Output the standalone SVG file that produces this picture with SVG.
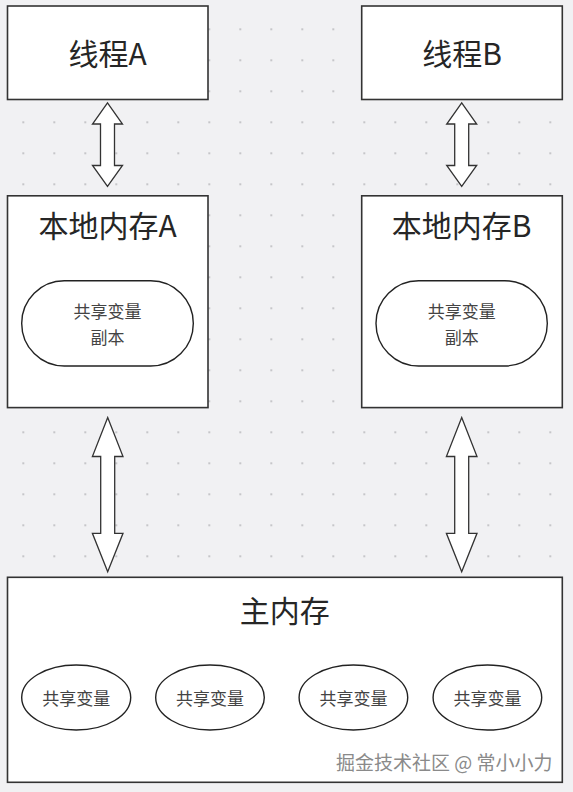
<svg xmlns="http://www.w3.org/2000/svg" width="573" height="792" viewBox="0 0 573 792">
<defs>
<pattern id="dots" patternUnits="userSpaceOnUse" x="22.3" y="28.3" width="31" height="31">
<rect x="0" y="0" width="2" height="2" fill="#c6c6c9"/>
</pattern>
<style>
.box{fill:#ffffff;stroke:#333333;stroke-width:1.6}
.oval{fill:#ffffff;stroke:#222222;stroke-width:1.4}
.arrow{fill:#ffffff;stroke:#333333;stroke-width:1.3;stroke-linejoin:miter}
.title{font-family:"Noto Sans CJK SC","Noto Sans",sans-serif;font-size:30px;fill:#262626;text-anchor:middle;dominant-baseline:central}
.sub{font-family:"Noto Sans CJK SC","Noto Sans",sans-serif;font-size:17px;fill:#444444;text-anchor:middle;dominant-baseline:central}
.wm{font-family:"Noto Sans CJK SC","Noto Sans",sans-serif;font-size:19px;fill:#8a8a8a;text-anchor:end;dominant-baseline:central;stroke:#ffffff;stroke-width:0.4;paint-order:stroke}
</style>
</defs>
<rect x="0" y="0" width="573" height="792" fill="#f1f1f3"/>
<rect x="0" y="0" width="573" height="792" fill="url(#dots)"/>

<g id="threadA">
<rect class="box" x="7.5" y="6" width="200.5" height="93.5"/>
<text class="title" x="107.7" y="51.5">线程A</text>
</g>
<g id="threadB">
<rect class="box" x="361.7" y="6" width="200.6" height="93.5"/>
<text class="title" x="462" y="51.5">线程B</text>
</g>
<g id="localA">
<rect class="box" x="7.5" y="195.8" width="200.5" height="211.8"/>
<text class="title" x="107.7" y="224">本地内存A</text>
<rect class="oval" x="21.7" y="280.7" width="171.6" height="85.3" rx="42.6" ry="42.6"/>
<text class="sub" x="107.5" y="310.5">共享变量</text>
<text class="sub" x="107.5" y="336.8">副本</text>
</g>
<g id="localB">
<rect class="box" x="361.7" y="195.8" width="200.6" height="211.8"/>
<text class="title" x="461.5" y="224">本地内存B</text>
<rect class="oval" x="376" y="280.7" width="171.3" height="85.3" rx="42.6" ry="42.6"/>
<text class="sub" x="461.7" y="310.5">共享变量</text>
<text class="sub" x="461.7" y="336.8">副本</text>
</g>
<g id="mainMemory">
<rect class="box" x="7.5" y="577.3" width="554.8" height="205"/>
<text class="title" x="284.7" y="608.5">主内存</text>
<ellipse class="oval" cx="76.2" cy="697.5" rx="54.5" ry="32.5"/>
<text class="sub" x="76.2" y="697.5">共享变量</text>
<ellipse class="oval" cx="210" cy="697.5" rx="54.3" ry="32.5"/>
<text class="sub" x="210" y="697.5">共享变量</text>
<ellipse class="oval" cx="353.4" cy="697.5" rx="54.3" ry="32.5"/>
<text class="sub" x="353.4" y="697.5">共享变量</text>
<ellipse class="oval" cx="487.4" cy="697.5" rx="54.3" ry="32.5"/>
<text class="sub" x="487.4" y="697.5">共享变量</text>
<text class="wm" x="552.5" y="761">掘金技术社区 @ 常小小力</text>
</g>

<g id="connectors">
<polygon class="arrow" points="107.5,102.8 122.5,124 114.5,124 114.5,165.5 122.5,165.5 107.5,186.5 92.5,165.5 100.5,165.5 100.5,124 92.5,124"/>
<polygon class="arrow" points="461.7,102.8 476.7,124 468.7,124 468.7,165.5 476.7,165.5 461.7,186.5 446.7,165.5 454.7,165.5 454.7,124 446.7,124"/>
<polygon class="arrow" points="107.7,417.5 123,456.5 114.7,456.5 114.7,533.3 123,533.3 107.7,571.7 92.4,533.3 100.7,533.3 100.7,456.5 92.4,456.5"/>
<polygon class="arrow" points="461.7,417.5 477,456.5 468.7,456.5 468.7,533.3 477,533.3 461.7,571.7 446.4,533.3 454.7,533.3 454.7,456.5 446.4,456.5"/>
</g>
</svg>
